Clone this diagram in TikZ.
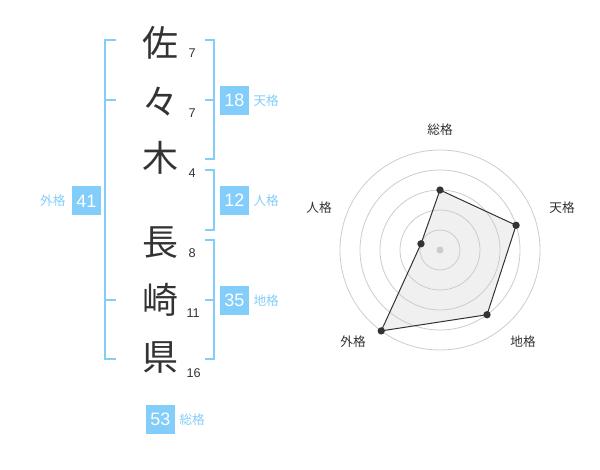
\documentclass[tikz,border=0pt]{standalone}
\usepackage{fontspec}
\setmainfont{Noto Sans CJK JP}
\newfontfamily\numfont{Liberation Sans}
\definecolor{kakublue}{RGB}{130,205,250}
\definecolor{inkgray}{RGB}{51,51,51}
\definecolor{ringgray}{RGB}{204,204,204}
\definecolor{areagray}{RGB}{240,240,240}
\tikzset{every picture/.style={line width=0.75pt}}
\tikzset{
  kanji/.style={inner sep=0pt, text=inkgray, font=\fontsize{27}{27}\selectfont},
  strokes/.style={anchor=west, inner sep=0pt, text=inkgray, font=\numfont\fontsize{9.5}{10}\selectfont},
  kakubox/.style={fill=kakublue, text=white, minimum width=21.75pt, minimum height=21.75pt, inner sep=0pt, font=\numfont\fontsize{13.5}{14}\selectfont},
  kakulabel/.style={text=kakublue, inner sep=0pt, font=\fontsize{9.5}{10}\selectfont},
  bracket/.style={draw=kakublue, line width=1.5pt},
  ring/.style={draw=ringgray, line width=0.6pt},
  axislabel/.style={text=inkgray, inner sep=0pt, font=\fontsize{9.5}{10}\selectfont},
  dot/.style={circle, fill=inkgray, inner sep=0pt, minimum size=5.5pt}
}

\begin{document}
\begin{tikzpicture}[x=0.75pt,y=0.75pt,yscale=-1,xscale=1]
\useasboundingbox (0,0) rectangle (600,470);

% Name characters
\node[kanji] (sa) at (160,43) {佐};
\node[kanji] (noma) at (160,102) {々};
\node[kanji] (ki) at (160,158) {木};
\node[kanji] (naga) at (160,243) {長};
\node[kanji] (saki) at (160,300) {崎};
\node[kanji] (ken) at (160,358) {県};

% Stroke counts
\node[strokes] (nsa) at (188,53) {7};
\node[strokes] (nnoma) at (188,113) {7};
\node[strokes] (nki) at (188,173) {4};
\node[strokes] (nnaga) at (188,253) {8};
\node[strokes] (nsaki) at (186,313) {11};
\node[strokes] (nken) at (186,373) {16};

%Brackets: outer (left)
\draw[bracket] (116,40) -- (105,40) -- (105,359.5) -- (116,359.5);
\draw[bracket] (105,100) -- (116,100);
\draw[bracket] (105,300) -- (116,300);
%Brackets: right
\draw[bracket] (205,40) -- (214,40) -- (214,159.5) -- (205,159.5);
\draw[bracket] (214,100) -- (205,100);
\draw[bracket] (205,170) -- (214,170) -- (214,230) -- (205,230);
\draw[bracket] (205,240.5) -- (214,240.5) -- (214,359.5) -- (205,359.5);
\draw[bracket] (214,300) -- (205,300);

% Totals
\node[kakubox] (ten) at (234.5,100.5) {18};
\node[kakulabel, anchor=west] (tenl) at (253,101) {天格};
\node[kakubox] (jin) at (234.5,200.5) {12};
\node[kakulabel, anchor=west] (jinl) at (253,201) {人格};
\node[kakubox] (chi) at (234.5,300.5) {35};
\node[kakulabel, anchor=west] (chil) at (253,301) {地格};
\node[kakubox] (gai) at (86.5,201) {41};
\node[kakulabel, anchor=east] (gail) at (66,201) {外格};
\node[kakubox] (sou) at (160.5,419) {53};
\node[kakulabel, anchor=west] (soul) at (179,420) {総格};

% Radar chart
\coordinate (ctr) at (440,250);
\foreach \name/\ang/\r in {psou/-90/60, pten/-18/80, pchi/54/80, pgai/126/100, pjin/198/20}
  \coordinate (\name) at ([shift={(\ang:\r)}]ctr);
\fill[areagray] (psou) -- (pten) -- (pchi) -- (pgai) -- (pjin) -- cycle;
\foreach \r in {20,40,...,100}
  \draw[ring] (ctr) circle (\r);
\fill[ringgray] (ctr) circle (3.5);
\draw[draw=inkgray] (psou) -- (pten) -- (pchi) -- (pgai) -- (pjin) -- cycle;
\foreach \name in {psou,pten,pchi,pgai,pjin}
  \node[dot] (d\name) at (\name) {};

% Axis labels
\node[axislabel] (asou) at (440,130) {総格};
\node[axislabel] (aten) at (562,208) {天格};
\node[axislabel] (ajin) at (319,208) {人格};
\node[axislabel] (achi) at (523,342) {地格};
\node[axislabel] (agai) at (353,342) {外格};

\end{tikzpicture}
\end{document}
